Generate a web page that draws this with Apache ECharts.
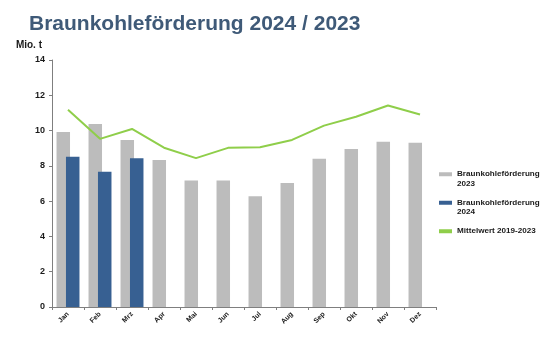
<!DOCTYPE html>
<html>
<head>
<meta charset="utf-8">
<script src="https://cdn.jsdelivr.net/npm/echarts@6/dist/echarts.min.js"></script>
<style>
  html, body { margin: 0; padding: 0; background: #fff; }
  #chart { width: 554px; height: 341px; }
</style>
</head>
<body>
<div id="chart"></div>
<script>
// Monthly lignite output, million tonnes
const months = ['Jan', 'Feb', 'Mrz', 'Apr', 'Mai', 'Jun', 'Jul', 'Aug', 'Sep', 'Okt', 'Nov', 'Dez'];
const output2023 = [9.92, 10.37, 9.46, 8.33, 7.17, 7.17, 6.28, 7.03, 8.40, 8.96, 9.37, 9.31];
const output2024 = [8.51, 7.67, 8.43];
const average2019to2023 = [11.18, 9.53, 10.09, 9.03, 8.44, 9.02, 9.05, 9.47, 10.28, 10.78, 11.42, 10.91];
const yTicks = [0, 2, 4, 6, 8, 10, 12, 14];

const name2023 = 'Braunkohleförderung 2023';
const name2024 = 'Braunkohleförderung 2024';
const nameAvg = 'Mittelwert 2019-2023';

const font = 'Liberation Sans, Arial, sans-serif';
const chart = echarts.init(document.getElementById('chart'), null, { renderer: 'canvas' });

// Legend entries are laid out as three lines so the key sits beside the first text line
function legendLabel(n) {
  if (n.startsWith('Braun')) {
    const i = n.lastIndexOf(' ');
    return ' \n' + n.slice(0, i) + '\n' + n.slice(i + 1);
  }
  return ' \n' + n + '\n ';
}

chart.setOption({
  animation: false,
  backgroundColor: '#ffffff',
  title: {
    text: 'Braunkohleförderung 2024 / 2023',
    left: 24,
    top: 9,
    textStyle: { fontFamily: font, fontSize: 21, fontWeight: 'bold', color: '#3f5a78' }
  },
  grid: { left: 52, right: 118, top: 60, bottom: 34, containLabel: false },
  legend: {
    orient: 'vertical',
    left: 439,
    top: 160,
    padding: 0,
    itemWidth: 13,
    itemHeight: 4,
    itemGap: 0,
    textStyle: { fontFamily: font, fontSize: 8.1, fontWeight: 'bold', color: '#1a1a1a', lineHeight: 9.5 },
    formatter: legendLabel,
    data: [
      { name: name2023, icon: 'rect' },
      { name: name2024, icon: 'rect' },
      { name: nameAvg, icon: 'rect', itemStyle: { color: '#8fce4a' } }
    ]
  },
  xAxis: {
    type: 'category',
    data: months,
    boundaryGap: true,
    axisLine: { lineStyle: { color: '#7f7f7f', width: 1 } },
    axisTick: { show: true, length: 3, alignWithLabel: false, lineStyle: { color: '#7f7f7f' } },
    axisLabel: {
      interval: 0, rotate: 45, margin: 6,
      fontFamily: font, fontSize: 7, fontWeight: 'bold', color: '#1a1a1a'
    },
    splitLine: { show: false }
  },
  yAxis: {
    type: 'value',
    min: yTicks[0],
    max: yTicks[yTicks.length - 1],
    interval: 2,
    name: 'Mio. t',
    nameLocation: 'end',
    nameGap: 10,
    nameTextStyle: { fontFamily: font, fontSize: 10, fontWeight: 'bold', color: '#1a1a1a', align: 'right', padding: [0, 10, 0, 0] },
    axisLine: { show: true, lineStyle: { color: '#7f7f7f', width: 1 } },
    axisTick: { show: true, length: 3, lineStyle: { color: '#7f7f7f' } },
    axisLabel: { margin: 7, fontFamily: font, fontSize: 9, fontWeight: 'bold', color: '#1a1a1a' },
    splitLine: { show: false }
  },
  series: [
    {
      name: name2023,
      type: 'bar',
      data: output2023,
      barWidth: 13.5,
      barGap: '-30%',
      itemStyle: { color: '#bcbcbc' },
      z: 1
    },
    {
      name: name2024,
      type: 'bar',
      data: output2024,
      barWidth: 13.5,
      itemStyle: { color: '#376092' },
      z: 2
    },
    {
      name: nameAvg,
      type: 'line',
      data: average2019to2023,
      symbol: 'none',
      lineStyle: { color: '#8fce4a', width: 2 },
      itemStyle: { color: '#8fce4a' },
      z: 3
    }
  ]
});
</script>
</body>
</html>
